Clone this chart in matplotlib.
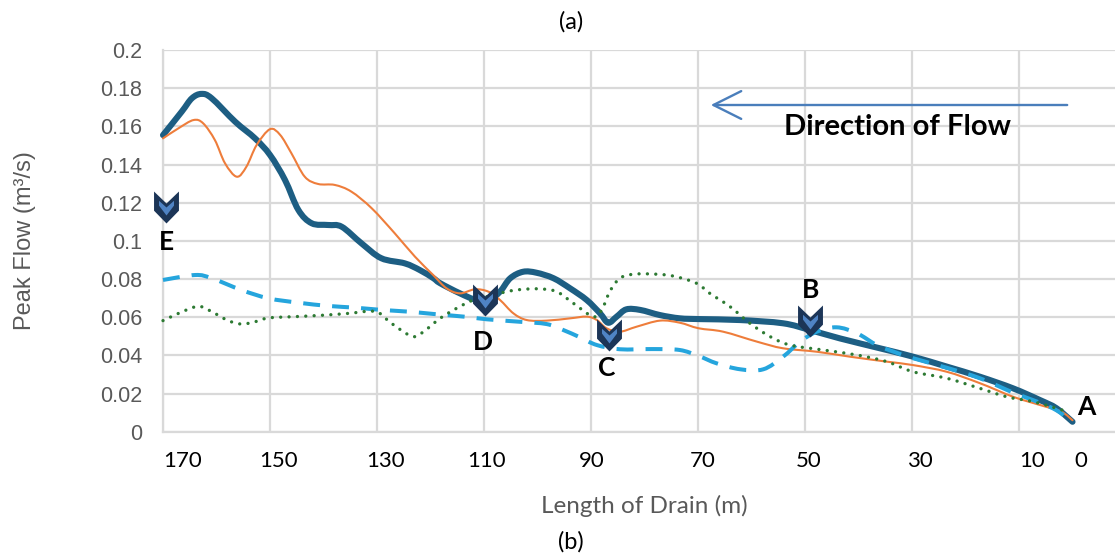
import matplotlib
matplotlib.use("Agg")
import matplotlib.pyplot as plt
from matplotlib.path import Path
from matplotlib.patches import FancyArrowPatch, PathPatch

# ---------------- data ----------------
x_teal = [170, 166.5, 164.6, 162.8, 160.9, 156.5, 152.8, 150, 147.2, 144.7, 142.2, 139.1, 136.6,
          132.9, 129.2, 124.8, 122, 119.5, 118.2, 114.5, 111.4, 108.9, 107.0, 105.1, 102.7, 100.2,
          97.0, 93.9, 90.8, 88.3, 86.8, 85.2, 83.4, 80.8, 77.1, 73.4, 69.6, 62.1, 54.1, 49.1,
          43.5, 36.0, 29.8, 23.5, 17.3, 11.1, 6.1, 3.0, 0]
y_teal = [0.1554, 0.1677, 0.1747, 0.1770, 0.1747, 0.1624, 0.1537, 0.1450, 0.1319, 0.1162, 0.1092,
          0.1083, 0.1074, 0.0987, 0.0909, 0.0882, 0.0847, 0.0805, 0.0778, 0.0725, 0.0690, 0.0694,
          0.0734, 0.0804, 0.0838, 0.0833, 0.0804, 0.0751, 0.0690, 0.0620, 0.0571, 0.0603, 0.0641,
          0.0638, 0.0611, 0.0594, 0.0590, 0.0585, 0.0568, 0.0533, 0.0489, 0.0437, 0.0393, 0.0341,
          0.0288, 0.0227, 0.0166, 0.0123, 0.0052]

x_orange = [170, 167.1, 164.3, 162.5, 160.3, 158.4, 156.2, 154.4, 152.5, 150, 148.1, 146, 143.5,
            141, 137.9, 134.8, 131, 126.7, 122.9, 119.5, 117, 114.5, 111.7, 109.2, 107, 104.5,
            102, 98.3, 93.9, 90.8, 88.9, 87.1, 84.6, 81.5, 77.1, 73.4, 69.9, 65.3, 59.0, 54.1,
            47.8, 41.6, 34.7, 29.8, 23.5, 17.3, 11.1, 6.1, 2.1, 0]
y_orange = [0.1537, 0.1590, 0.1633, 0.1616, 0.1528, 0.1406, 0.1336, 0.1389, 0.1502, 0.1585,
            0.1555, 0.1459, 0.1336, 0.1298, 0.1293, 0.1258, 0.1171, 0.1040, 0.0917, 0.0821,
            0.0751, 0.0725, 0.0746, 0.0734, 0.0690, 0.0620, 0.0585, 0.0582, 0.0594, 0.0603,
            0.0585, 0.0542, 0.0524, 0.0550, 0.0582, 0.0571, 0.0542, 0.0524, 0.0472, 0.0437,
            0.0419, 0.0393, 0.0367, 0.0349, 0.0314, 0.0254, 0.0183, 0.0140, 0.0105, 0.0060]

x_dash = [170, 164, 160.9, 155.3, 150.3, 144.7, 139.1, 134.1, 129.1, 124.1, 119.5, 113.8, 109.5,
          103.3, 98.3, 95.2, 92.1, 88.9, 84.6, 78.4, 73.4, 69.9, 66.5, 62.1, 57.8, 54.1, 50.9,
          47.8, 44.1, 40.3, 36.6, 33.5, 29.8, 23.5, 17.3, 11.1, 6.1, 3.0, 0]
y_dash = [0.0795, 0.0821, 0.0804, 0.0742, 0.0699, 0.0676, 0.0659, 0.0650, 0.0638, 0.0629, 0.0617,
          0.0603, 0.0589, 0.0576, 0.0564, 0.0533, 0.0495, 0.0454, 0.0432, 0.0433, 0.0428, 0.0397,
          0.0358, 0.0327, 0.0327, 0.0393, 0.0472, 0.0524, 0.0547, 0.0516, 0.0454, 0.0420, 0.0385,
          0.0335, 0.0280, 0.0205, 0.0152, 0.0112, 0.0052]

x_green = [170, 167.1, 164.3, 162.8, 160.3, 157.8, 155.3, 152.8, 150.3, 145.3, 140.3, 135.3, 131.6,
           129.7, 127.3, 123.6, 121.7, 118.2, 115.1, 112, 108.9, 105.8, 102.7, 99.5, 96.4, 93.3,
           89.6, 88.0, 86.5, 84.6, 82.1, 78.4, 74.7, 70.3, 67.8, 64.0, 60.3, 56.5, 52.8, 46.6,
           40.3, 34.7, 29.8, 23.5, 17.3, 12.3, 7.3, 2.0]
y_green = [0.0582, 0.0620, 0.0652, 0.0655, 0.0620, 0.0582, 0.0564, 0.0576, 0.0596, 0.0603, 0.0610,
           0.0620, 0.0631, 0.0624, 0.0568, 0.0501, 0.0516, 0.0594, 0.0647, 0.0690, 0.0711, 0.0734,
           0.0746, 0.0748, 0.0734, 0.0673, 0.0603, 0.0638, 0.0734, 0.0804, 0.0825, 0.0826, 0.0816,
           0.0778, 0.0725, 0.0655, 0.0568, 0.0498, 0.0454, 0.0428, 0.0402, 0.0367, 0.0314, 0.0280,
           0.0227, 0.0183, 0.0157, 0.0114]

point_labels = ["E", "D", "C", "B", "A"]
point_label_x = [169.4, 110.2, 87.0, 49.0, -2.5]
point_label_y = [0.0994, 0.0470, 0.0333, 0.0743, 0.0130]
chevron_x = [169.4, 109.8, 86.6, 49.0]
chevron_y = [0.1177, 0.0690, 0.0507, 0.0580]

x_grid = [170, 150, 130, 110, 90, 70, 50, 30, 10]
x_label_pos = [166.3, 148.5, 128.5, 109.6, 89.8, 69.1, 49.4, 28.5, 7.6, -1.6]
x_label_txt = ["170", "150", "130", "110", "90", "70", "50", "30", "10", "0"]
y_ticks = [0, 0.02, 0.04, 0.06, 0.08, 0.1, 0.12, 0.14, 0.16, 0.18, 0.2]
y_tick_txt = ["0", "0.02", "0.04", "0.06", "0.08", "0.1", "0.12", "0.14", "0.16", "0.18", "0.2"]


def smooth_path(xs, ys):
    """Smoothed (Bezier) line through the data points, like a spreadsheet's smoothed line."""
    pts = list(zip(xs, ys))
    n = len(pts)
    verts = [pts[0]]
    codes = [Path.MOVETO]
    for i in range(n - 1):
        p0 = pts[max(i - 1, 0)]
        p1 = pts[i]
        p2 = pts[i + 1]
        p3 = pts[min(i + 2, n - 1)]
        c1 = (p1[0] + (p2[0] - p0[0]) / 6.0, p1[1] + (p2[1] - p0[1]) / 6.0)
        c2 = (p2[0] - (p3[0] - p1[0]) / 6.0, p2[1] - (p3[1] - p1[1]) / 6.0)
        verts += [c1, c2, p2]
        codes += [Path.CURVE4] * 3
    return Path(verts, codes)


# ---------------- figure ----------------
W, H = 1115, 556
fig = plt.figure(figsize=(W / 100, H / 100), dpi=100)
ax = fig.add_axes([163 / W, 1 - 431.7 / H, 952 / W, 381.7 / H])
ax.set_xlim(170, -7.94)
ax.set_ylim(0, 0.2)

grid_c = "#D9D9D9"
ax.set_xticks(x_grid)
ax.set_xticklabels([])
ax.set_xticks(x_label_pos, minor=True)
ax.set_xticklabels(x_label_txt, minor=True, fontsize=16, family="Lato", color="black")
ax.set_yticks(y_ticks)
ax.set_yticklabels(y_tick_txt, fontsize=15.5, family="Liberation Sans", color="#595959")
ax.tick_params(axis="both", which="both", length=0)
ax.tick_params(axis="x", which="minor", pad=14)
ax.tick_params(axis="y", pad=15)
ax.grid(True, which="major", color=grid_c, linewidth=1.6)
ax.set_axisbelow(True)
for s in ["top", "right"]:
    ax.spines[s].set_visible(False)
for s in ["left", "bottom"]:
    ax.spines[s].set_color(grid_c)
    ax.spines[s].set_linewidth(1.6)

series = [
    (x_teal, y_teal, dict(edgecolor="#1D5E83", lw=4.4, capstyle="round", joinstyle="round"), 3),
    (x_orange, y_orange, dict(edgecolor="#EE7D3B", lw=1.5, capstyle="round", joinstyle="round"), 4),
    (x_dash, y_dash, dict(edgecolor="#25A5DD", lw=2.9, linestyle=(0, (4.2, 3.0)), capstyle="butt"), 5),
    (x_green, y_green, dict(edgecolor="#2D7A33", lw=2.4, linestyle=(0, (0.01, 2.5)), capstyle="round"), 6),
]
for xs, ys, style, z in series:
    ax.add_patch(PathPatch(smooth_path(xs, ys), facecolor="none", transform=ax.transData,
                           clip_on=False, zorder=z, **style))

# chevron markers
outer = Path([(-0.78, 1.0), (0.0, 0.25), (0.78, 1.0), (0.78, -0.2), (0.0, -1.0), (-0.78, -0.2),
              (-0.78, 1.0)], [1, 2, 2, 2, 2, 2, 79])
inner_v = [(-0.47, 0.42), (0.0, 0.0), (0.47, 0.42), (0.47, 0.12), (0.0, -0.5), (-0.47, 0.12),
           (-0.47, 0.42)]
inner = Path(inner_v, [1, 2, 2, 2, 2, 2, 79])
ms_outer = 23
ms_inner = ms_outer * max(max(abs(a), abs(b)) for a, b in inner_v) / 1.0
ax.plot(chevron_x, chevron_y, linestyle="none", marker=outer, markersize=ms_outer,
        markerfacecolor="#1C3557", markeredgewidth=0, clip_on=False, zorder=8)
ax.plot(chevron_x, chevron_y, linestyle="none", marker=inner, markersize=ms_inner,
        markerfacecolor="#4F83C4", markeredgewidth=0, clip_on=False, zorder=9)

for t, px, py in zip(point_labels, point_label_x, point_label_y):
    ax.text(px, py, t, ha="center", va="center", fontsize=19, fontweight="bold",
            family="Lato", color="black", zorder=10, clip_on=False)

# direction arrow
arr = FancyArrowPatch((0.9527, 0.8559), (0.5725, 0.8559), transform=ax.transAxes,
                      arrowstyle="->,head_length=20,head_width=10", mutation_scale=1,
                      color="#4A7EBB", lw=1.7, zorder=7)
ax.add_patch(arr)
ax.text(0.772, 0.798, "Direction of Flow", transform=ax.transAxes, ha="center", va="center",
        fontsize=21, fontweight="bold", family="Lato", color="black", zorder=10)

fig.text(571 / W, 1 - 22 / H, "(a)", ha="center", va="center", fontsize=17, family="Lato", color="black")
fig.text(571 / W, 1 - 541.7 / H, "(b)", ha="center", va="center", fontsize=17, family="Lato", color="black")
fig.text(644 / W, 1 - 506 / H, "Length of Drain (m)", ha="center", va="center", fontsize=17.5,
         family="Lato", color="#595959")
fig.text(25 / W, 1 - 241 / H, "Peak Flow (m³/s)", ha="center", va="center", rotation=90,
         fontsize=17, family="Liberation Sans", color="#595959")

fig.savefig("out.png", dpi=100)
